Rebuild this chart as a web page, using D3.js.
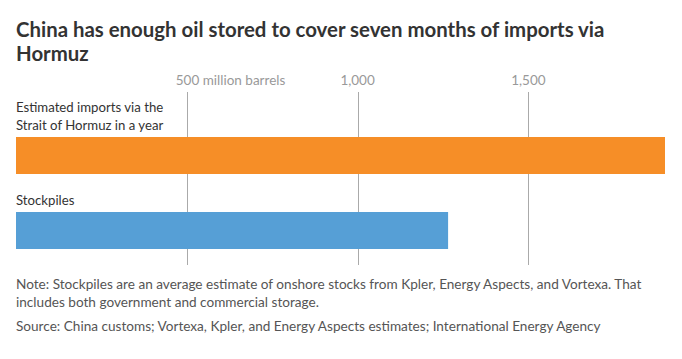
<!DOCTYPE html>
<html><head><meta charset="utf-8">
<script src="https://cdn.jsdelivr.net/npm/d3@7"></script>
<style>body{margin:0;background:#fff}svg{display:block}</style>
</head><body><svg id="c" width="682" height="359"></svg>
<script>
const categories = ["Estimated imports via the Strait of Hormuz in a year", "Stockpiles"];
const categoryLines = [["Estimated imports via the", "Strait of Hormuz in a year"], ["Stockpiles"]];
const values = [1900, 1265];
const colors = ["#F68E27", "#569FD6"];
const tickValues = [500, 1000, 1500];
const tickLabels = ["500 million barrels", "1,000", "1,500"];
const titleLines = ["China has enough oil stored to cover seven months of imports via", "Hormuz"];
const noteLines = ["Note: Stockpiles are an average estimate of onshore stocks from Kpler, Energy Aspects, and Vortexa. That", "includes both government and commercial storage."];
const sourceLine = "Source: China customs; Vortexa, Kpler, and Energy Aspects estimates; International Energy Agency";

const svg = d3.select("#c");
const font = "Lato, 'Open Sans', sans-serif";
const x = d3.scaleLinear().domain([0, 1900]).range([16, 665]);
const y = d3.scaleBand().domain(categories).range([137, 287]).paddingInner(0).paddingOuter(0);

// title
svg.selectAll("text.title").data(titleLines).join("text")
  .attr("x", 16).attr("y", (d,i) => 37 + i*24)
  .attr("font-family", font).attr("font-weight", 700).attr("font-size", 20.4)
  .attr("fill", "#333").text(d => d);

// grid
svg.selectAll("line.grid").data(tickValues).join("line")
  .attr("x1", d => Math.round(x(d)) + 0.5).attr("x2", d => Math.round(x(d)) + 0.5)
  .attr("y1", 92).attr("y2", 265).attr("stroke", "#aaa").attr("stroke-width", 1);

svg.selectAll("text.tick").data(tickValues).join("text")
  .attr("x", (d,i) => i === 0 ? x(d) - 11 : x(d)).attr("y", 85)
  .attr("text-anchor", (d,i) => i === 0 ? "start" : "middle")
  .attr("font-family", font).attr("font-size", 13.5).attr("fill", "#999")
  .text((d,i) => tickLabels[i]);

// bars
svg.selectAll("rect.bar").data(values).join("rect")
  .attr("x", x(0)).attr("y", (d,i) => y(categories[i]))
  .attr("width", d => x(d) - x(0)).attr("height", 37)
  .attr("fill", (d,i) => colors[i]);

// category labels
categoryLines.forEach((lines, i) => {
  const n = lines.length;
  svg.selectAll("text.cat" + i).data(lines).join("text")
    .attr("x", 16).attr("y", (d,j) => y(categories[i]) - 7 - (n - 1 - j) * 18)
    .attr("font-family", font).attr("font-size", 13.2).attr("fill", "#333")
    .text(d => d);
});

// notes
svg.selectAll("text.note").data(noteLines).join("text")
  .attr("x", 16).attr("y", (d,i) => 289 + i*18)
  .attr("font-family", font).attr("font-size", 13.6).attr("fill", "#555").text(d => d);
svg.append("text").attr("x", 16).attr("y", 331)
  .attr("font-family", font).attr("font-size", 13.6).attr("fill", "#555").text(sourceLine);
</script></body></html>
